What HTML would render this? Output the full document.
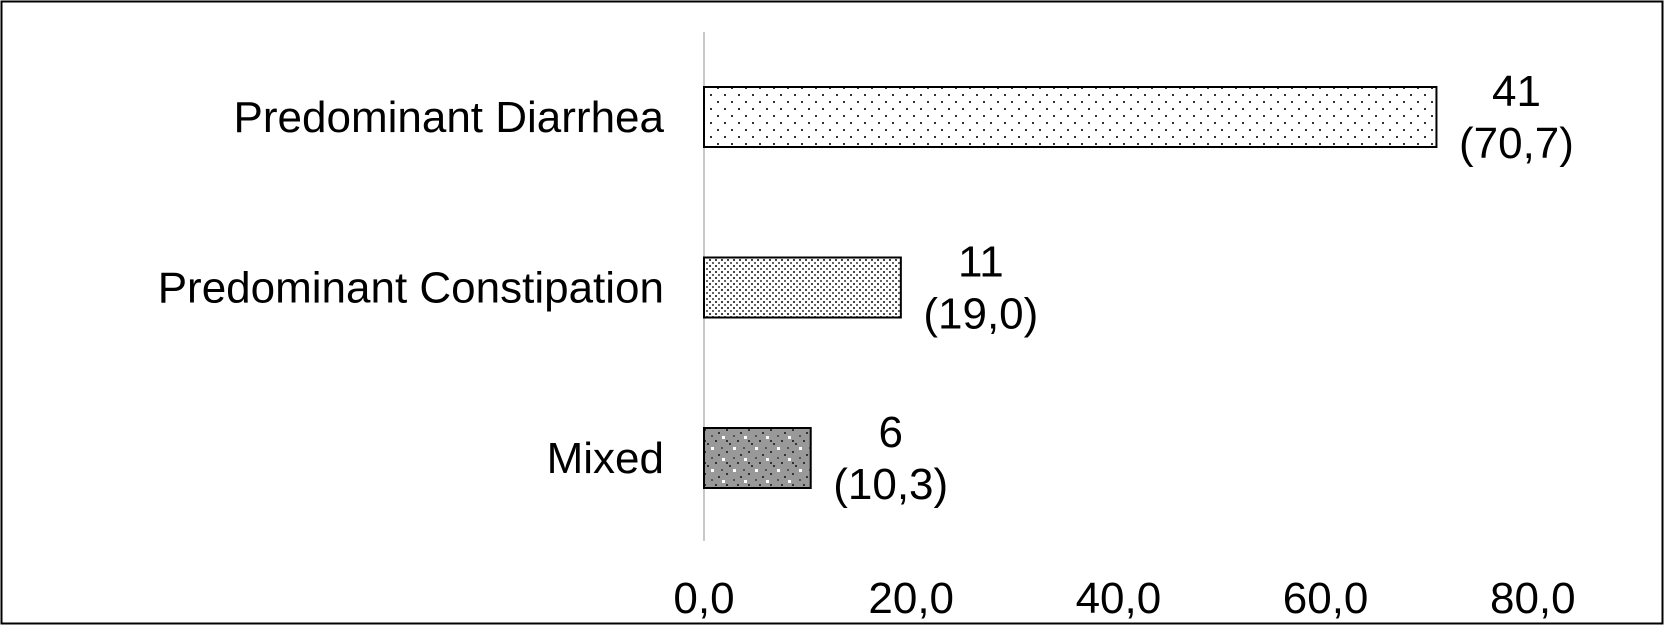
<!DOCTYPE html>
<html><head><meta charset="utf-8"><style>
html,body{margin:0;padding:0;background:#fff;}
svg{display:block;font-family:"Liberation Sans",Arial,sans-serif;}
</style></head><body>
<svg id="chart" width="1664" height="626" viewBox="0 0 1664 626">
<defs>
<pattern id="p0" width="14" height="14" patternUnits="userSpaceOnUse"><rect width="14" height="14" fill="#fff"/><rect x="3" y="3" width="2" height="2" fill="#333"/><rect x="10" y="10" width="2" height="2" fill="#333"/></pattern>
<pattern id="p1" width="6" height="6" patternUnits="userSpaceOnUse"><rect width="6" height="6" fill="#fff"/><rect x="1" y="1" width="2" height="2" fill="#444"/><rect x="4" y="4" width="2" height="2" fill="#666"/></pattern>
<pattern id="p2" width="22" height="22" patternUnits="userSpaceOnUse"><rect width="22" height="22" fill="#999"/><rect x="0" y="0" width="2" height="2" fill="#333"/><rect x="3" y="3" width="2" height="2" fill="#333"/><rect x="11" y="0" width="2" height="2" fill="#333"/><rect x="0" y="11" width="2" height="2" fill="#333"/><rect x="14" y="14" width="2" height="2" fill="#333"/><rect x="7" y="7" width="3" height="3" fill="#fff"/><rect x="18" y="18" width="3" height="3" fill="#fff"/><rect x="7" y="17" width="2" height="2" fill="#555"/><rect x="17" y="7" width="2" height="2" fill="#555"/></pattern>
</defs>
<rect x="1.5" y="1.5" width="1661" height="622" fill="#fff" stroke="#000" stroke-width="2"/>
<line x1="704" y1="32" x2="704" y2="541" stroke="#c8c8c8" stroke-width="2"/>
<g id="bars"></g>
<g id="ticks"></g>
</svg>
<script>
const categories = ["Predominant Diarrhea", "Predominant Constipation", "Mixed"];
const counts = [41, 11, 6];
const percents = [70.7, 19.0, 10.3];
const tickValues = [0, 20, 40, 60, 80];
const tickLabels = ["0,0", "20,0", "40,0", "60,0", "80,0"];

const NS = "http://www.w3.org/2000/svg";
const x0 = 704, pxPerUnit = 10.36;
function xScale(v){ return x0 + v * pxPerUnit; }
function yCenter(i){ return 117 + i * 170.5; }
const barH = 60;
const FS = 44;
const fills = ["url(#p0)", "url(#p1)", "url(#p2)"];
function mk(tag, attrs, text){ const e = document.createElementNS(NS, tag); for (const k in attrs) e.setAttribute(k, attrs[k]); if (text !== undefined) e.textContent = text; return e; }
const bars = document.getElementById("bars");
categories.forEach((c, i) => {
  const cy = yCenter(i);
  const r = mk("rect", {x: xScale(0), y: cy - barH/2, width: xScale(percents[i]) - xScale(0), height: barH, fill: fills[i], stroke: "#000", "stroke-width": 2});
  
  
  bars.appendChild(r);
  const lbl = mk("text", {x: 664, y: cy + 15, "text-anchor": "end", "font-size": FS, fill: "#000"}, c);
  
  
  bars.appendChild(lbl);
  const vx = xScale(percents[i]) + 80;
  const t1 = mk("text", {x: vx, y: cy - 11, "text-anchor": "middle", "font-size": FS, fill: "#000"}, String(counts[i]));
  
  
  bars.appendChild(t1);
  const t2 = mk("text", {x: vx, y: cy + 41, "text-anchor": "middle", "font-size": FS, fill: "#000"}, "(" + percents[i].toFixed(1).replace(".", ",") + ")");
  
  
  bars.appendChild(t2);
});
const ticks = document.getElementById("ticks");
tickValues.forEach((v, i) => {
  const t = mk("text", {x: xScale(v), y: 613, "text-anchor": "middle", "font-size": FS, fill: "#000"}, tickLabels[i]);
  
  
  ticks.appendChild(t);
});
</script>
</body></html>
